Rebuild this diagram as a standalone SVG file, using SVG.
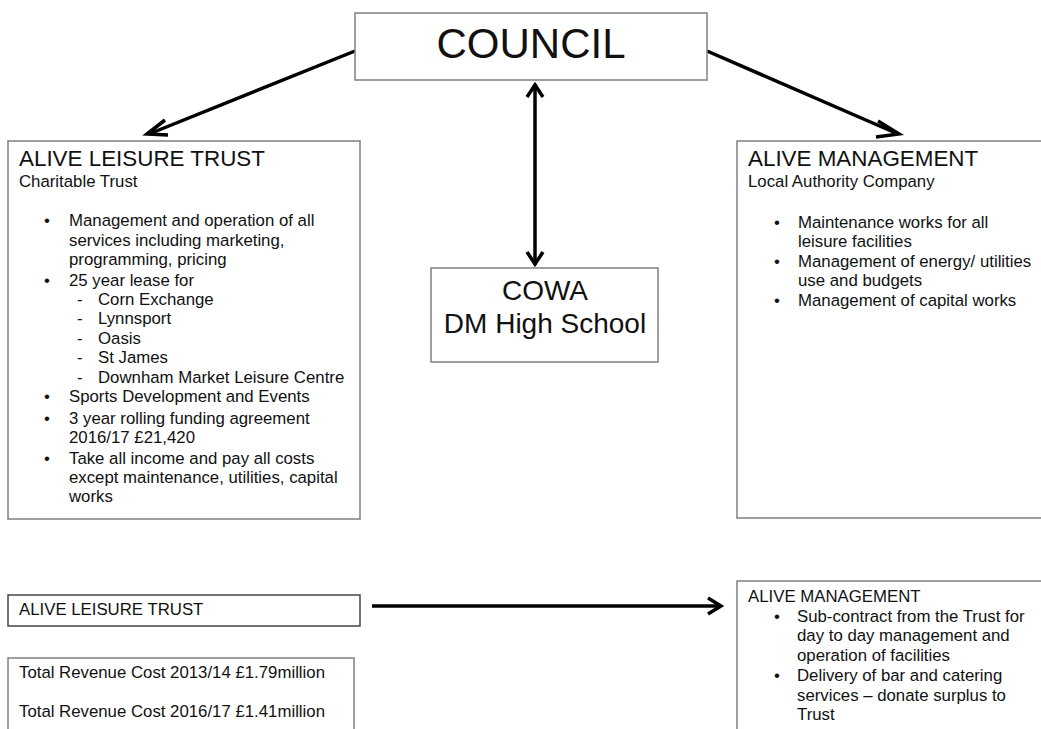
<svg xmlns="http://www.w3.org/2000/svg" width="1041" height="729" viewBox="0 0 1041 729">
<style>
text{font-family:"Liberation Sans",Arial,sans-serif;fill:#111}
.box{fill:#fff;stroke:#808080;stroke-width:1.5}
.t15{font-size:16.8px}
.big{font-size:22.4px}
.ln{stroke:#000;stroke-width:3.5;fill:none}
</style>
<rect width="1041" height="729" fill="#fff"/>
<g id="connectors">
<line class="ln" x1="355" y1="51" x2="149" y2="134"/>
<path class="ln" d="M165,120 L147,134 L168,135"/>
<line class="ln" x1="707" y1="51" x2="898" y2="134"/>
<path class="ln" d="M878,121 L899,134 L876,137"/>
<line class="ln" x1="535" y1="84" x2="535" y2="265"/>
<path class="ln" d="M527,97 L535,85 L543,97"/>
<path class="ln" d="M527,252 L535,264 L543,252"/>
<line class="ln" x1="372" y1="606" x2="720" y2="606"/>
<path class="ln" d="M708,598 L721,606 L708,614"/>
</g>
<g id="council">
<rect class="box" x="355" y="13" width="352" height="67"/>
<text x="531" y="58" font-size="42" text-anchor="middle">COUNCIL</text>
</g>
<g id="cowa">
<rect class="box" x="431" y="268" width="227" height="94"/>
<text x="545" y="300" font-size="28" text-anchor="middle">COWA</text>
<text x="545" y="333" font-size="28" text-anchor="middle">DM High School</text>
</g>
<g id="alive-leisure-trust">
<rect class="box" x="8" y="141" width="352" height="378"/>
<text x="19" y="166" class="big">ALIVE LEISURE TRUST</text>
<text x="19" y="187" class="t15">Charitable Trust</text>
<g class="t15">
<text x="44" y="226">•</text><text x="69" y="226">Management and operation of all</text>
<text x="69" y="246">services including marketing,</text>
<text x="69" y="265">programming, pricing</text>
<text x="44" y="286">•</text><text x="69" y="286">25 year lease for</text>
<text x="77" y="305">-</text><text x="98" y="305">Corn Exchange</text>
<text x="77" y="324">-</text><text x="98" y="324">Lynnsport</text>
<text x="77" y="344">-</text><text x="98" y="344">Oasis</text>
<text x="77" y="363">-</text><text x="98" y="363">St James</text>
<text x="77" y="383">-</text><text x="98" y="383">Downham Market Leisure Centre</text>
<text x="44" y="402">•</text><text x="69" y="402">Sports Development and Events</text>
<text x="44" y="424">•</text><text x="69" y="424">3 year rolling funding agreement</text>
<text x="69" y="443">2016/17 £21,420</text>
<text x="44" y="464">•</text><text x="69" y="464">Take all income and pay all costs</text>
<text x="69" y="483">except maintenance, utilities, capital</text>
<text x="69" y="502">works</text>
</g>
</g>
<g id="alive-management">
<rect class="box" x="737" y="141" width="310" height="377"/>
<text x="748" y="166" class="big">ALIVE MANAGEMENT</text>
<text x="748" y="187" class="t15">Local Authority Company</text>
<g class="t15">
<text x="774" y="228">•</text><text x="798" y="228">Maintenance works for all</text>
<text x="798" y="247">leisure facilities</text>
<text x="774" y="267">•</text><text x="798" y="267">Management of energy/ utilities</text>
<text x="798" y="286">use and budgets</text>
<text x="774" y="306">•</text><text x="798" y="306">Management of capital works</text>
</g>
</g>
<g id="alive-leisure-trust-2">
<rect x="8" y="595" width="352" height="31" fill="#fff" stroke="#444" stroke-width="1.5"/>
<text x="19" y="615" class="t15">ALIVE LEISURE TRUST</text>
</g>
<g id="revenue">
<rect class="box" x="8" y="658" width="346" height="80"/>
<text x="19" y="678" class="t15">Total Revenue Cost 2013/14 £1.79million</text>
<text x="19" y="717" class="t15">Total Revenue Cost 2016/17 £1.41million</text>
</g>
<g id="alive-management-2">
<rect class="box" x="737" y="581" width="310" height="160"/>
<text x="748" y="602" class="t15">ALIVE MANAGEMENT</text>
<g class="t15">
<text x="774" y="622">•</text><text x="797" y="622">Sub-contract from the Trust for</text>
<text x="797" y="641">day to day management and</text>
<text x="797" y="661">operation of facilities</text>
<text x="774" y="681">•</text><text x="797" y="681">Delivery of bar and catering</text>
<text x="797" y="701">services – donate surplus to</text>
<text x="797" y="720">Trust</text>
</g>
</g>
</svg>
